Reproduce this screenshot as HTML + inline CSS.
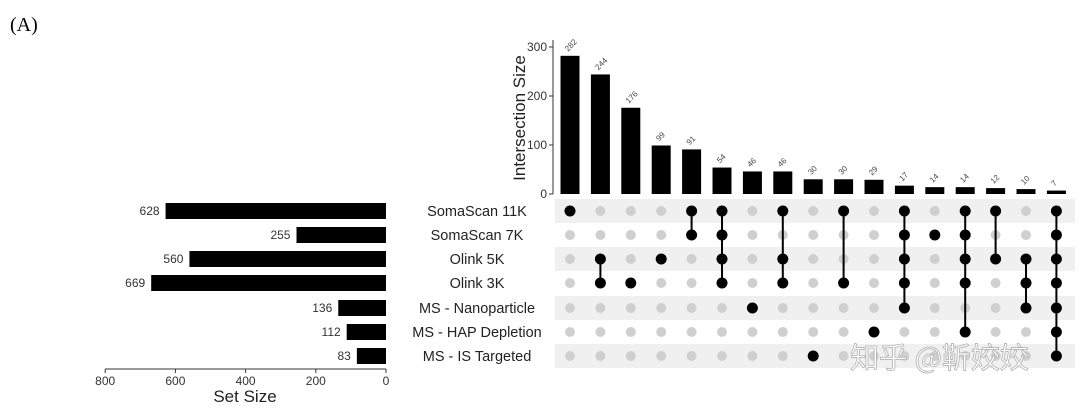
<!DOCTYPE html>
<html><head><meta charset="utf-8"><style>
html,body{margin:0;padding:0;background:#fff;width:1080px;height:408px;overflow:hidden}
svg{display:block;font-family:"Liberation Sans",Arial,sans-serif}
</style></head><body>
<svg id="s" width="1080" height="408" xmlns="http://www.w3.org/2000/svg">
<text x="10" y="31" font-family="Liberation Serif,serif" font-size="20">(A)</text>
</svg>
<script>
const s=document.getElementById('s');const NS='http://www.w3.org/2000/svg';
function el(t,a,txt){const e=document.createElementNS(NS,t);for(const k in a)e.setAttribute(k,a[k]);if(txt!==undefined)e.textContent=txt;s.appendChild(e);return e;}
const rows=[211,235,259,283,308,332,356];
const names=['SomaScan 11K','SomaScan 7K','Olink 5K','Olink 3K','MS - Nanoparticle','MS - HAP Depletion','MS - IS Targeted'];
const sizes=[628,255,560,669,136,112,83];
const vals=[282,244,176,99,91,54,46,46,30,30,29,17,14,14,12,10,7];
const sets=[[0],[2,3],[3],[2],[0,1],[0,1,2,3],[4],[0,2,3],[6],[0,3],[5],[0,1,2,3,4],[1],[0,1,2,3,5],[0,2],[2,3,4],[0,1,2,3,4,5,6]];
[0,2,4,6].forEach(r=>el('rect',{x:555,y:rows[r]-12,width:520,height:24,fill:'#f0f0f0'}));
const y0=194,sc=0.49;
el('line',{x1:553,y1:40,x2:553,y2:y0,stroke:'#333','stroke-width':1});
[0,100,200,300].forEach(v=>{const y=y0-v*sc;el('line',{x1:549,y1:y,x2:553,y2:y,stroke:'#333'});el('text',{x:547,y:y+4,'text-anchor':'end','font-size':12,fill:'#333'},v);});
el('text',{x:0,y:0,transform:'translate(525,118) rotate(-90)','text-anchor':'middle','font-size':17,fill:'#222'},'Intersection Size');
vals.forEach((v,i)=>{const cx=570+i*30.4;const h=v*sc;
el('rect',{x:cx-9.5,y:y0-h,width:19,height:h,fill:'#000'});
el('text',{x:0,y:0,transform:`translate(${cx-2},${y0-h-4}) rotate(-45)`,'font-size':8,fill:'#444'},v);
rows.forEach((ry,r)=>el('circle',{cx:cx,cy:ry,r:5,fill:'#cfcfcf'}));
const st=sets[i];
if(st.length>1)el('line',{x1:cx,y1:rows[st[0]],x2:cx,y2:rows[st[st.length-1]],stroke:'#000','stroke-width':2});
st.forEach(r=>el('circle',{cx:cx,cy:rows[r],r:5.5,fill:'#000'}));
});
const z=386,ls=0.351;
names.forEach((n,r)=>{const w=sizes[r]*ls;el('rect',{x:z-w,y:rows[r]-8,width:w,height:16,fill:'#000'});
el('text',{x:z-w-6,y:rows[r]+4,'text-anchor':'end','font-size':12,fill:'#333'},sizes[r]);
el('text',{x:477,y:rows[r]+5,'text-anchor':'middle','font-size':14.5,fill:'#222'},n);});
el('line',{x1:105,y1:369,x2:386,y2:369,stroke:'#333'});
[800,600,400,200,0].forEach(v=>{const x=z-v*ls;el('line',{x1:x,y1:369,x2:x,y2:373,stroke:'#333'});el('text',{x:x,y:385,'text-anchor':'middle','font-size':12,fill:'#333'},v);});
el('text',{x:245,y:402,'text-anchor':'middle','font-size':17,fill:'#222'},'Set Size');
el('text',{x:850,y:368,'font-size':29,fill:'#fff',stroke:'#aaa','stroke-width':0.7,'font-family':'"Noto Sans CJK SC",sans-serif'},'知乎 @靳姣姣');
</script>
</body></html>
